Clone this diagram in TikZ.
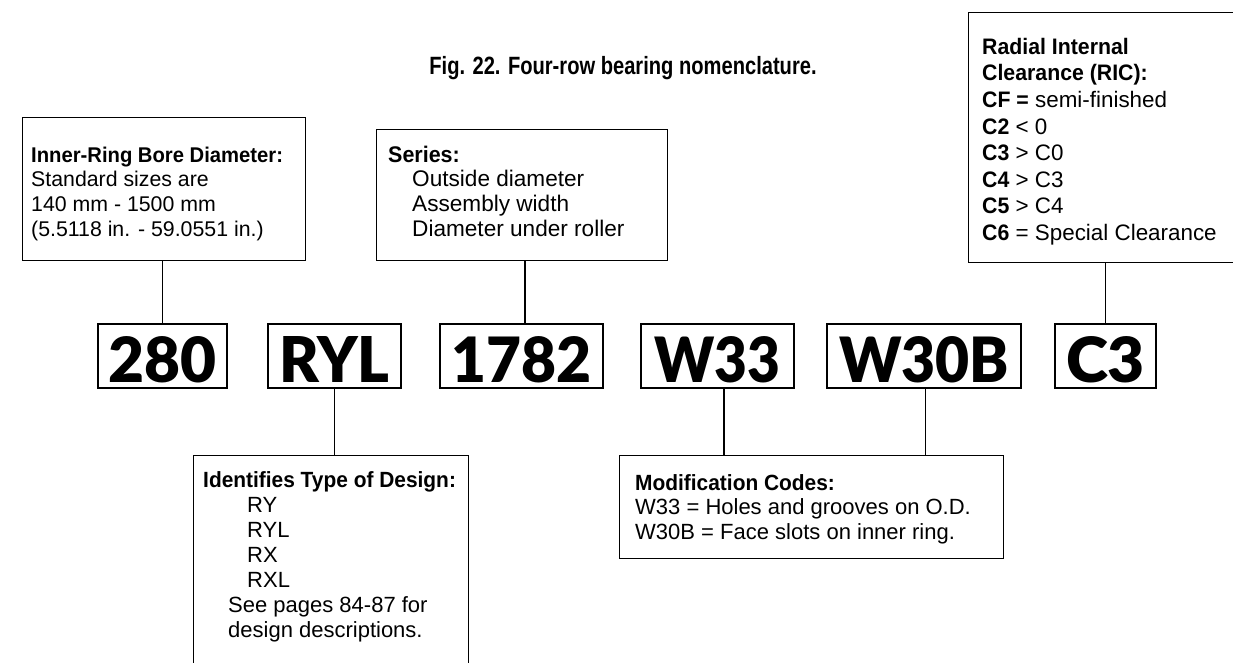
\documentclass[tikz,border=0pt]{standalone}
\usepackage{graphicx}
\usepackage{fontspec}
\setmainfont{Liberation Sans}
\newfontfamily\hbfam{Liberation Sans}[FakeStretch=0.95]
\newfontfamily\condfam{Liberation Sans}[FakeStretch=0.805]
\IfFontExistsTF{Lato Black}{\newfontfamily\blkfam{Lato Black}}{%
  \IfFontExistsTF{Noto Sans Black}{\newfontfamily\blkfam{Noto Sans Black}}{%
    \newfontfamily\blkfam{Liberation Sans Bold}}}
\newcommand\fl{\rule{0pt}{17pt}}
\newcommand\B[1]{{\hbfam\bfseries #1}}
\newcommand\heavy[2]{\resizebox{#1}{46pt}{#2}}
\tikzset{
  frame/.style={draw, line width=1.2pt, inner sep=0pt, anchor=north west},
  codebox/.style={draw, line width=1.2pt, inner sep=0pt, minimum height=64pt,
    text height=52pt, text depth=0pt, font=\blkfam\fontsize{60}{60}\selectfont},
  txt/.style={anchor=north west, inner sep=0pt, align=left},
  link/.style={draw, line width=1.2pt}
}
\begin{document}
\begin{tikzpicture}[x=1pt,y=-1pt]
\useasboundingbox (0,0) rectangle (1233,662);
\clip (0,0) rectangle (1233,662);
\fill[white] (0,0) rectangle (1233,662);
% title
\node[anchor=base, inner sep=0pt, font=\condfam\bfseries\fontsize{25}{27}\selectfont] (title) at (623,74) {Fig. 22. Four-row bearing nomenclature.};
% upper boxes
\node[frame, minimum width=283pt, minimum height=143pt] (bore) at (22,117) {};
\node[txt, font=\fontsize{21.3}{24.7}\selectfont] (boretext) at (31,145) {\fl\B{Inner-Ring Bore Diameter:}\\Standard sizes are\\140 mm - 1500 mm\\(5.5118 in. - 59.0551 in.)};
\node[frame, minimum width=291pt, minimum height=131pt] (series) at (376,129) {};
\node[txt, font=\fontsize{22.6}{24.7}\selectfont] (seriestext) at (388,145) {\fl\B{Series:}\\\hspace*{24pt}Outside diameter\\\hspace*{24pt}Assembly width\\\hspace*{24pt}Diameter under roller};
\node[frame, minimum width=300pt, minimum height=250pt] (ric) at (968,12) {};
\node[txt, font=\fontsize{22.4}{26.6}\selectfont] (rictext) at (982,37) {\fl\B{Radial Internal}\\\B{Clearance (RIC):}\\\B{CF =} semi-finished\\\B{C2} < 0\\\B{C3} > C0\\\B{C4} > C3\\\B{C5} > C4\\\B{C6} = Special Clearance};
% code boxes
\node[codebox, minimum width=129pt] (b280) at (162.5,356) {\heavy{108pt}{280}};
\node[codebox, minimum width=133pt] (bryl) at (334.5,356) {\heavy{110pt}{RYL}};
\node[codebox, minimum width=163pt] (b1782) at (521.5,356) {\heavy{140pt}{1782}};
\node[codebox, minimum width=153pt] (bw33) at (717.5,356) {\heavy{126pt}{W33}};
\node[codebox, minimum width=194pt] (bw30b) at (924,356) {\heavy{170pt}{W30B}};
\node[codebox, minimum width=101pt] (bc3) at (1105.5,356) {\heavy{79pt}{C3}};
% lower boxes
\node[frame, minimum width=275pt, minimum height=260pt] (design) at (193,455) {};
\node[txt, font=\fontsize{22}{25}\selectfont] (designtext) at (203,470) {\fl\B{Identifies Type of Design:}\\\hspace*{44pt}RY\\\hspace*{44pt}RYL\\\hspace*{44pt}RX\\\hspace*{44pt}RXL\\\hspace*{25pt}See pages 84-87 for\\\hspace*{25pt}design descriptions.};
\node[frame, minimum width=384pt, minimum height=103pt] (mod) at (619,455) {};
\node[txt, font=\fontsize{22}{24.5}\selectfont] (modtext) at (635,473) {\fl\B{Modification Codes:}\\W33 = Holes and grooves on O.D.\\W30B = Face slots on inner ring.};
% connectors
\draw[link] (b280.north) -- (b280.north |- bore.south);
\draw[link] ([xshift=3.5pt]b1782.north) -- ([xshift=3.5pt]b1782.north |- series.south);
\draw[link] (bc3.north) -- (bc3.north |- ric.south);
\draw[link] (bryl.south) -- (bryl.south |- design.north);
\draw[link] ([xshift=6.5pt]bw33.south) -- ([xshift=6.5pt]bw33.south |- mod.north);
\draw[link] ([xshift=1.5pt]bw30b.south) -- ([xshift=1.5pt]bw30b.south |- mod.north);
\end{tikzpicture}
\end{document}
